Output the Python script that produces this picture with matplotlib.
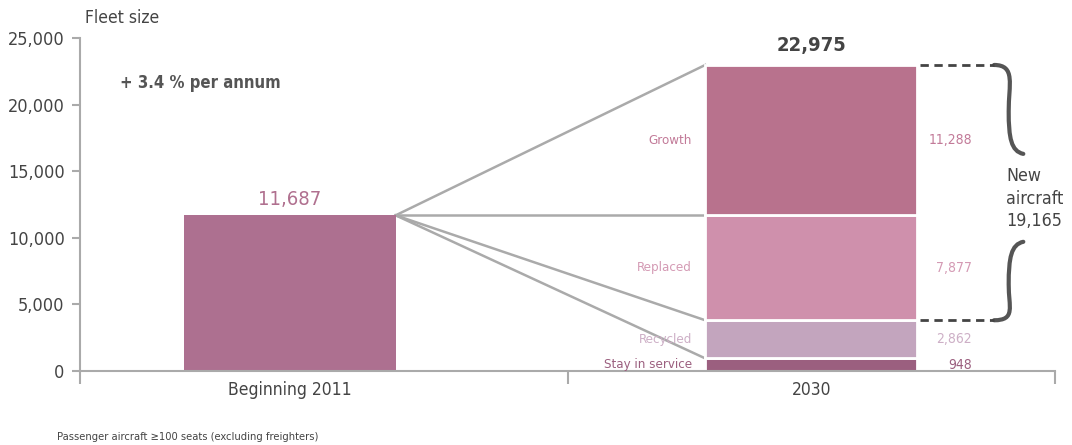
import matplotlib
matplotlib.use("Agg")
import matplotlib.pyplot as plt
from matplotlib.path import Path
from matplotlib.patches import PathPatch
import numpy as np

plt.rcParams['font.family'] = ['DejaVu Sans']
plt.rcParams['font.stretch'] = 'condensed'

# data
categories = ["Beginning 2011", "2030"]
fleet_2011 = 11687
segment_names = ["Stay in service", "Recycled", "Replaced", "Growth"]
segment_values = [948, 2862, 7877, 11288]
fleet_2030 = 22975
new_aircraft = 19165
growth_rate = "+ 3.4 % per annum"

seg_colors = ["#9B5F7F", "#C3A5BE", "#CF90AC", "#B8728D"]
label_colors = ["#9B5F7F", "#CDAFC6", "#D49AB4", "#C27A98"]

fig = plt.figure(figsize=(10.72, 4.45), dpi=100)
ax = fig.add_axes([80 / 1072, 74 / 445, 975 / 1072, 333 / 445])

x_pos = [0.43, 1.5]
width = 0.435

ax.bar(x_pos[0], fleet_2011, width=width, color="#AD7090", zorder=2)
bottoms = np.concatenate([[0], np.cumsum(segment_values)[:-1]])
for val, bot, col in zip(segment_values, bottoms, seg_colors):
    ax.bar(x_pos[1], val, bottom=bot, width=width, color=col,
           edgecolor="white", linewidth=2, zorder=2)

# connector lines from the 2011 bar to the 2030 segments
x0 = x_pos[0] + width / 2
x1 = x_pos[1] - width / 2
tops = np.cumsum(segment_values)
for level in tops:
    ax.plot([x0, x1], [fleet_2011, level], color="#AAAAAA", lw=1.8, zorder=1)

# labels
ax.text(x_pos[0], fleet_2011 + 450, f"{fleet_2011:,}", ha="center", va="bottom",
        fontsize=14.5, color="#B0708F")
ax.text(x_pos[1], fleet_2030 + 750, f"{fleet_2030:,}", ha="center", va="bottom",
        fontsize=14.5, fontweight="bold", color="#444444")
ax.text(0.082, 21600, growth_rate, ha="left", va="center", fontsize=12,
        fontweight="bold", color="#555555")

for name, val, bot, col in zip(segment_names, segment_values, bottoms, label_colors):
    yc = bot + val / 2
    ax.text(1.255, yc, name, ha="right", va="center", fontsize=9.5, color=col)
    ax.text(1.83, yc, f"{val:,}", ha="right", va="center", fontsize=10, color=col)

# dashed guide lines and brace
xr = x_pos[1] + width / 2
for level in [fleet_2030, tops[1]]:
    ax.plot([xr + 0.005, 1.875], [level, level], color="#444444", lw=2,
            ls=(0, (3, 2)), clip_on=False)

brace_top = Path([(1.875, fleet_2030), (1.92, fleet_2030), (1.905, 21500),
                  (1.905, 19500), (1.905, 17500), (1.91, 16500), (1.935, 16300)],
                 [Path.MOVETO, Path.CURVE4, Path.CURVE4, Path.CURVE4,
                  Path.CURVE4, Path.CURVE4, Path.CURVE4])
brace_bot = Path([(1.935, 9700), (1.91, 9500), (1.905, 8500),
                  (1.905, 6500), (1.905, 4800), (1.92, tops[1]), (1.875, tops[1])],
                 [Path.MOVETO, Path.CURVE4, Path.CURVE4, Path.CURVE4,
                  Path.CURVE4, Path.CURVE4, Path.CURVE4])
for p in [brace_top, brace_bot]:
    ax.add_patch(PathPatch(p, fill=False, lw=3, edgecolor="#555555",
                           capstyle="round", clip_on=False))

ax.text(1.9, 12950, f"New\naircraft\n{new_aircraft:,}", ha="left", va="center",
        fontsize=12.8, color="#444444", linespacing=1.3)

# axes styling
ax.set_xlim(0, 2)
ax.set_ylim(0, 25000)
ax.set_yticks(np.arange(0, 25001, 5000))
ax.set_yticklabels([f"{v:,}" for v in range(0, 25001, 5000)], fontsize=13, color="#444444")
ax.set_xticks([0, 1, 2])
ax.set_xticklabels([])
ax.set_xticks(x_pos, minor=True)
ax.set_xticklabels(categories, minor=True, fontsize=12.5, color="#444444")
ax.tick_params(axis="x", which="major", length=9, width=1.5, color="#AAAAAA")
ax.tick_params(axis="x", which="minor", length=0, pad=7)
ax.tick_params(axis="y", length=6, width=1.5, color="#AAAAAA", pad=5)
for s in ["top", "right"]:
    ax.spines[s].set_visible(False)
for s in ["left", "bottom"]:
    ax.spines[s].set_color("#AAAAAA")
    ax.spines[s].set_linewidth(1.5)

fig.text(85 / 1072, 1 - 18 / 445, "Fleet size", ha="left", va="center",
         fontsize=12.5, color="#444444")
fig.text(57 / 1072, 1 - 437 / 445, "Passenger aircraft \u2265100 seats (excluding freighters)",
         ha="left", va="center", fontsize=8, color="#444444")

fig.savefig("out.png", dpi=100)
